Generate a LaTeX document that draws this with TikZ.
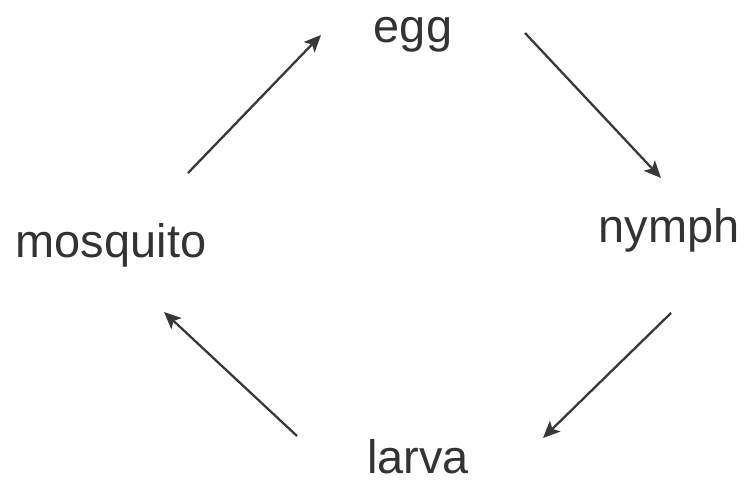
\documentclass[tikz,border=0pt]{standalone}
\usepackage{fontspec}
\setmainfont{Liberation Sans}
\usetikzlibrary{arrows.meta}
\tikzset{
	stage/.style={anchor=base,inner sep=0pt,text=black!80,font=\fontsize{26.7}{30}\selectfont},
	cyc/.style={-{Stealth[length=3.4mm,width=3mm,inset=0.8mm]},line width=1.3pt,draw=black!78}
}
\begin{document}
\begin{tikzpicture}[x=0.02cm,y=-0.02cm]
		\useasboundingbox (0,0) rectangle (744,486);
		\node[stage] (egg) at (413,43) {egg};
		\node[stage] (nymph) at (669,243) {nymph};
		\node[stage] (larva) at (418,473) {larva};
		\node[stage] (mosquito) at (111,258) {mosquito};
		% arrow ends
		\coordinate (m-out) at (188,173);
		\coordinate (e-in) at (321,35);
		\coordinate (e-out) at (525,33);
		\coordinate (n-in) at (661,178);
		\coordinate (n-out) at (671,313);
		\coordinate (l-in) at (543,438);
		\coordinate (l-out) at (297,436);
		\coordinate (m-in) at (164,312);
		\draw[cyc] (m-out) -- (e-in);
		\draw[cyc] (e-out) -- (n-in);
		\draw[cyc] (n-out) -- (l-in);
		\draw[cyc] (l-out) -- (m-in);
	\end{tikzpicture}
\end{document}
